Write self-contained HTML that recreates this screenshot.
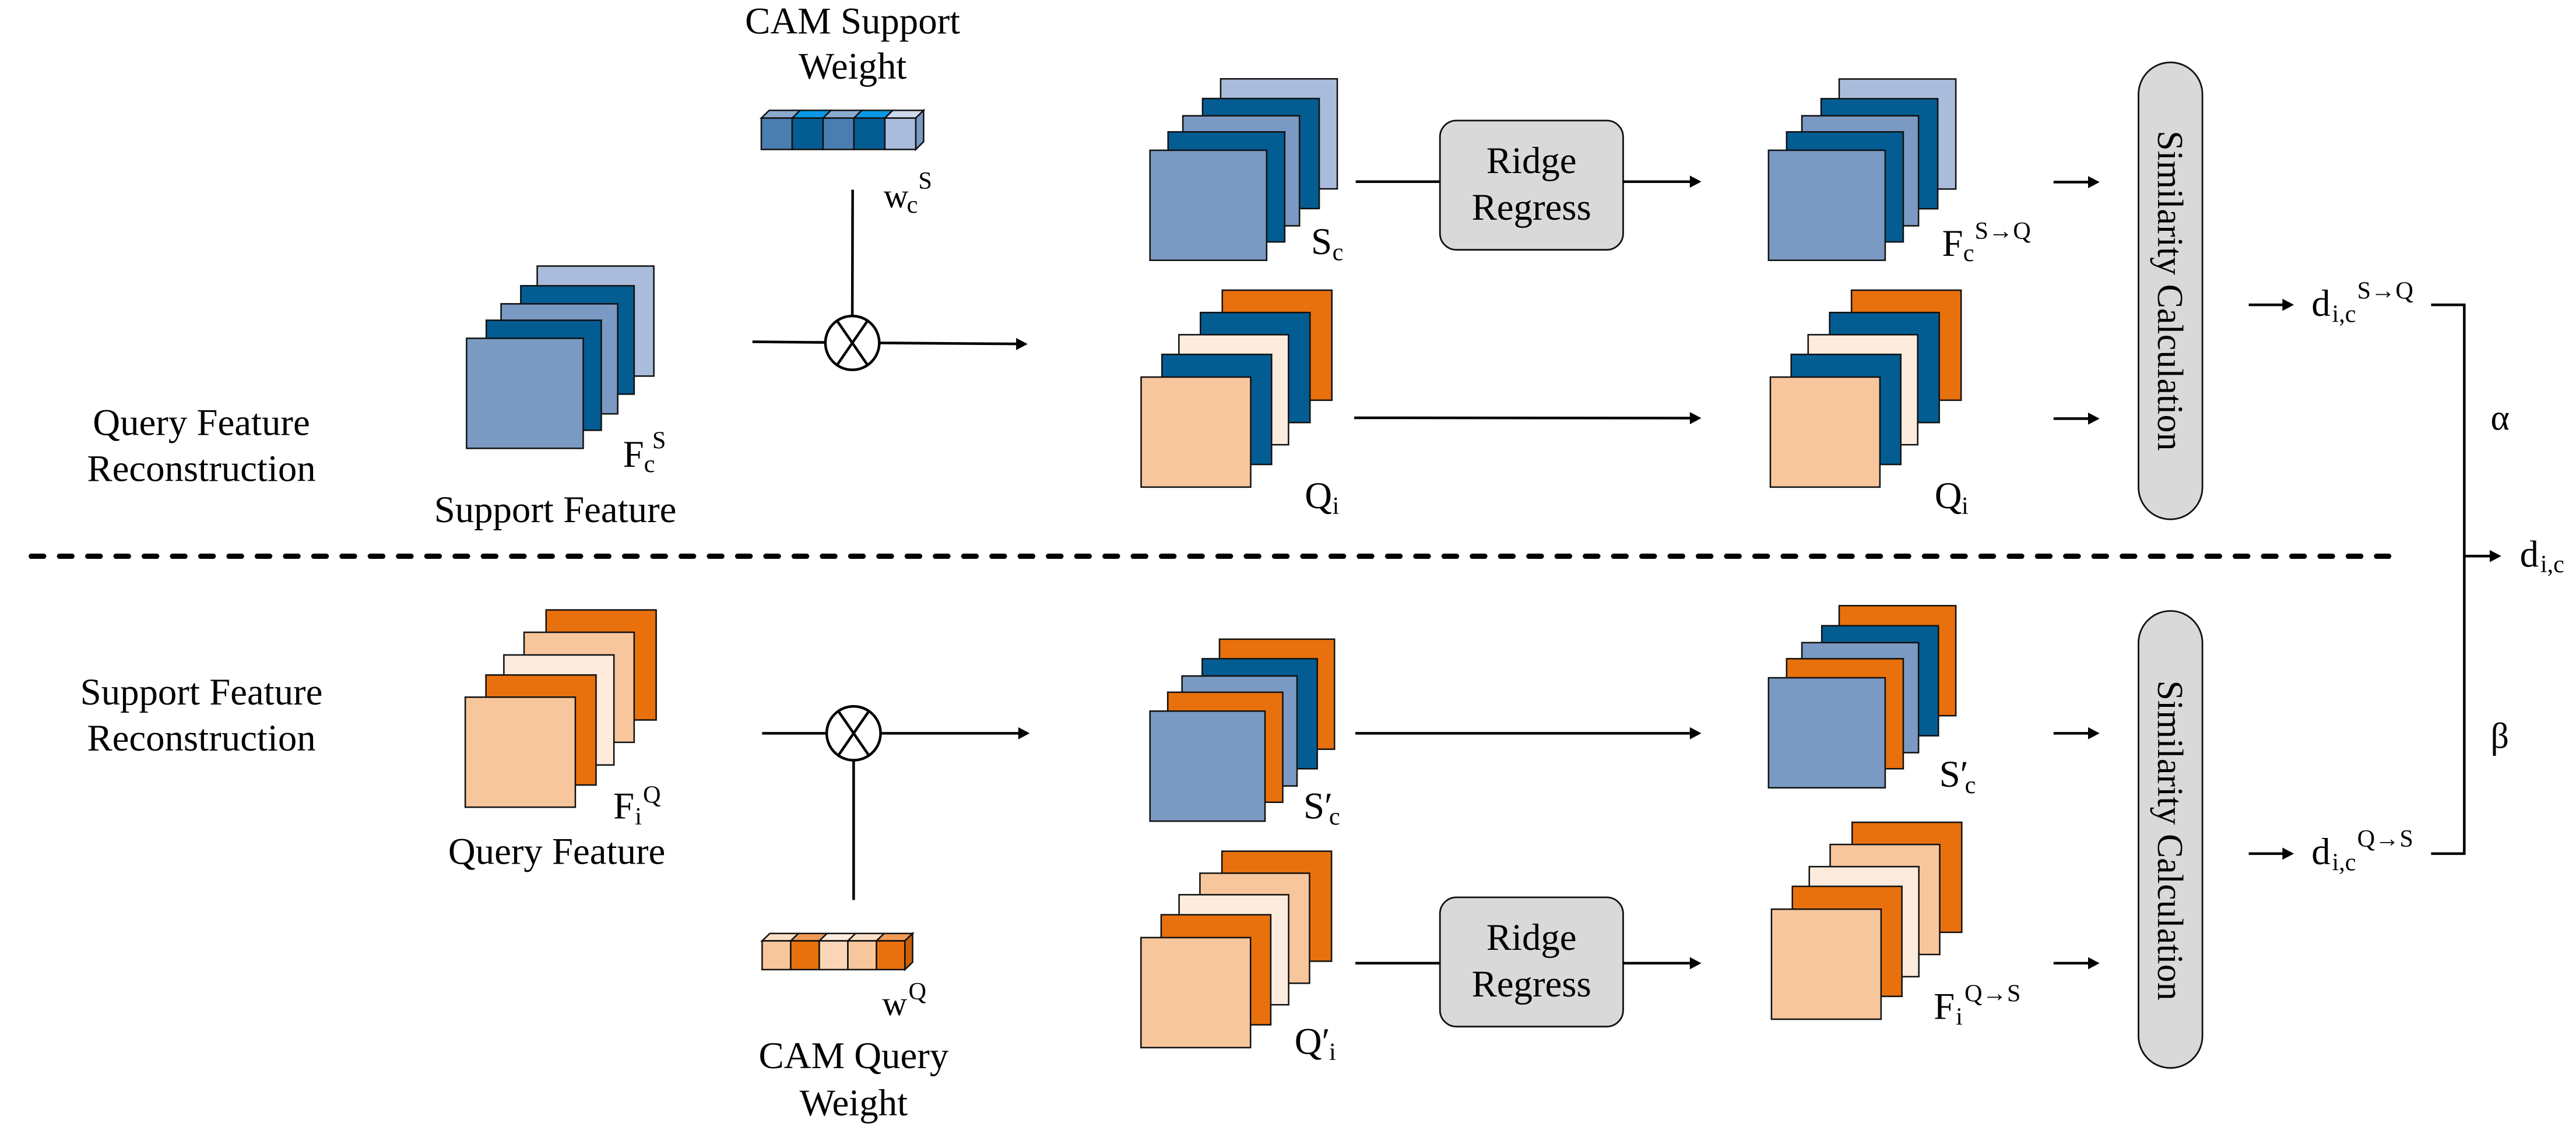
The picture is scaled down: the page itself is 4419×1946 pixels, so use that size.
<!DOCTYPE html>
<html><head><meta charset="utf-8"><style>
html,body{margin:0;padding:0;background:#fff;}
svg{display:block;font-family:"Liberation Serif","Times New Roman",serif;}
</style></head><body>
<svg width="4419" height="1946" viewBox="0 0 1568 690.5" xmlns="http://www.w3.org/2000/svg" font-family="Liberation Serif, Times New Roman, serif">
<defs>
<style>
text{font-family:"Liberation Serif","Times New Roman",serif;fill:#000;}
.r{stroke:#111;stroke-width:0.9;}
.L{fill:#AABCDC}.D{fill:#045D92}.M{fill:#7A9AC3}.O{fill:#E8710E}.P{fill:#F8C69D}.W{fill:#FDEBDD}
.ln{stroke:#000;stroke-width:1.6;fill:none;}
.t{font-size:23px;font-family:"Liberation Serif",serif;}
.s{font-size:15px;font-family:"Liberation Serif",serif;}
</style>
</defs>

<text class="t" x="122.6" y="264.8" text-anchor="middle">Query Feature</text>
<text class="t" x="122.6" y="293" text-anchor="middle">Reconstruction</text>
<text class="t" x="122.6" y="429" text-anchor="middle">Support Feature</text>
<text class="t" x="122.6" y="457" text-anchor="middle">Reconstruction</text>

<line x1="19" y1="338.7" x2="1454" y2="338.7" stroke="#000" stroke-width="3.2" stroke-linecap="round" stroke-dasharray="7.6 9.6"/>

<text class="t" x="519" y="20.4" text-anchor="middle">CAM Support</text>
<text class="t" x="519" y="47.9" text-anchor="middle">Weight</text>
<g class="r">
<polygon points="463.4,71.9 482.2,71.9 487,67.2 468.2,67.2" fill="#8AAAD0"/>
<polygon points="482.2,71.9 501,71.9 505.8,67.2 487,67.2" fill="#0A98E6"/>
<polygon points="501,71.9 519.8,71.9 524.6,67.2 505.8,67.2" fill="#8AAAD0"/>
<polygon points="519.8,71.9 538.6,71.9 543.4,67.2 524.6,67.2" fill="#0A98E6"/>
<polygon points="538.6,71.9 557.4,71.9 562.2,67.2 543.4,67.2" fill="#CCD8EA"/>
<polygon points="557.4,71.9 562.2,67.2 562.2,86.3 557.4,91" fill="#7A9AC3"/>
<rect x="463.4" y="71.9" width="18.8" height="19.1" fill="#4A7DB0"/>
<rect x="482.2" y="71.9" width="18.8" height="19.1" class="D"/>
<rect x="501" y="71.9" width="18.8" height="19.1" fill="#4A7DB0"/>
<rect x="519.8" y="71.9" width="18.8" height="19.1" class="D"/>
<rect x="538.6" y="71.9" width="18.8" height="19.1" class="L"/>
</g>
<text class="t" x="537.8" y="126.3" style="font-size:21px">w</text>
<text class="s" x="552" y="129.5">c</text>
<text class="s" x="559" y="115">S</text>

<line class="ln" x1="519" y1="115.5" x2="518.8" y2="192.5"/>
<line class="ln" x1="458" y1="208.1" x2="502.4" y2="208.5"/>
<line class="ln" x1="535.4" y1="208.8" x2="618.5" y2="209.4"/>
<polygon points="625.5,209.5 618.5,205.8 618.5,213.2"/>
<circle cx="518.8" cy="208.8" r="16.4" fill="#fff" stroke="#000" stroke-width="1.6"/>
<line class="ln" x1="509.5" y1="195.3" x2="528.1" y2="222.3"/>
<line class="ln" x1="528.1" y1="195.3" x2="509.5" y2="222.3"/>

<g class="r">
<rect x="327" y="162" width="71" height="67" class="L"/>
<rect x="317" y="174" width="69" height="66" class="D"/>
<rect x="305" y="185" width="71" height="67" class="M"/>
<rect x="296" y="195" width="70" height="67" class="D"/>
<rect x="284" y="206" width="71" height="67" class="M"/>
</g>
<text class="t" x="379.2" y="284.2">F</text>
<text class="s" x="392" y="287.5">c</text>
<text class="s" x="397" y="273">S</text>
<text class="t" x="338" y="318" text-anchor="middle">Support Feature</text>

<g class="r">
<rect x="743" y="48" width="71" height="67" class="L"/>
<rect x="732" y="60" width="71" height="67" class="D"/>
<rect x="720" y="70.5" width="71" height="67" class="M"/>
<rect x="711" y="80.3" width="71" height="67" class="D"/>
<rect x="700" y="91.5" width="71" height="67" class="M"/>
</g>
<text class="t" x="798" y="154.7">S</text>
<text class="s" x="811" y="158.4">c</text>

<g class="r">
<rect x="744" y="176.7" width="66.7" height="67" class="O"/>
<rect x="730.7" y="190.3" width="66.7" height="67" class="D"/>
<rect x="717.6" y="203.8" width="66.7" height="67" class="W"/>
<rect x="707.3" y="215.8" width="66.7" height="67" class="D"/>
<rect x="694.6" y="229.6" width="66.7" height="67" class="P"/>
</g>
<text class="t" x="794.2" y="309.5">Q</text>
<text class="s" x="811" y="313">i</text>

<line class="ln" x1="825.2" y1="110.6" x2="876.5" y2="110.6"/>
<rect x="876.5" y="73.4" width="111.5" height="78.7" rx="10" fill="#D9D9D9" stroke="#111" stroke-width="1"/>
<text class="t" x="932.2" y="105.4" text-anchor="middle">Ridge</text>
<text class="t" x="932.2" y="133.8" text-anchor="middle">Regress</text>
<line class="ln" x1="988" y1="110.6" x2="1029" y2="110.6"/>
<polygon points="1035.6,110.6 1028.6,106.9 1028.6,114.3"/>
<line class="ln" x1="824.3" y1="254.4" x2="1029" y2="254.6"/>
<polygon points="1035.6,254.6 1028.6,250.9 1028.6,258.3"/>

<g class="r">
<rect x="1119.5" y="48.1" width="71" height="67" class="L"/>
<rect x="1108.5" y="60.1" width="71" height="67" class="D"/>
<rect x="1096.8" y="70.5" width="71" height="67" class="M"/>
<rect x="1087.5" y="80.3" width="71" height="67" class="D"/>
<rect x="1076.5" y="91.5" width="71" height="67" class="M"/>
</g>
<text class="t" x="1182.1" y="155.7">F</text>
<text class="s" x="1195" y="159">c</text>
<text class="s" x="1202" y="145.5">S→Q</text>

<g class="r">
<rect x="1127" y="176.7" width="66.7" height="67" class="O"/>
<rect x="1113.7" y="190.3" width="66.7" height="67" class="D"/>
<rect x="1100.6" y="203.8" width="66.7" height="67" class="W"/>
<rect x="1090.3" y="215.8" width="66.7" height="67" class="D"/>
<rect x="1077.6" y="229.6" width="66.7" height="67" class="P"/>
</g>
<text class="t" x="1177.6" y="309.5">Q</text>
<text class="s" x="1194" y="313">i</text>

<line class="ln" x1="1250" y1="110.9" x2="1272" y2="110.9"/>
<polygon points="1278,110.9 1271,107.2 1271,114.6"/>
<line class="ln" x1="1250" y1="254.9" x2="1272" y2="254.9"/>
<polygon points="1278,254.9 1271,251.2 1271,258.6"/>

<rect x="1301.7" y="38" width="38.9" height="278.2" rx="19.45" fill="#D9D9D9" stroke="#111" stroke-width="1"/>
<text class="t" transform="translate(1313.5,177) rotate(90)" x="0" y="0" text-anchor="middle" style="font-size:22px">Similarity Calculation</text>

<line class="ln" x1="1368.8" y1="185.6" x2="1390" y2="185.6"/>
<polygon points="1396.3,185.6 1389.3,181.9 1389.3,189.3"/>
<text class="t" x="1407" y="192.3">d</text>
<text class="s" x="1419.5" y="196">i,c</text>
<text class="s" x="1434.8" y="181.8">S→Q</text>

<polyline class="ln" points="1479.8,185.6 1500,185.6 1500,519.8 1479.8,519.8"/>
<line class="ln" x1="1500" y1="338.6" x2="1516" y2="338.6"/>
<polygon points="1522.5,338.6 1515.5,334.9 1515.5,342.3"/>
<text class="t" x="1533.8" y="345">d</text>
<text class="s" x="1546.3" y="348.5">i,c</text>
<text class="t" x="1516" y="261.6" style="font-size:22px">α</text>
<text class="t" x="1516" y="455.5" style="font-size:22px">β</text>

<g class="r">
<rect x="332.4" y="371.4" width="67" height="67" class="O"/>
<rect x="319" y="385" width="67" height="67" class="P"/>
<rect x="306.7" y="398.8" width="67" height="67" class="W"/>
<rect x="295.8" y="411" width="67" height="67" class="O"/>
<rect x="283.2" y="424.5" width="67" height="67" class="P"/>
</g>
<text class="t" x="373.3" y="498.3">F</text>
<text class="s" x="386.5" y="502">i</text>
<text class="s" x="391.4" y="488.7">Q</text>
<text class="t" x="338.9" y="526" text-anchor="middle">Query Feature</text>

<line class="ln" x1="463.9" y1="446.5" x2="503" y2="446.5"/>
<line class="ln" x1="536" y1="446.5" x2="620" y2="446.5"/>
<polygon points="626.8,446.5 619.8,442.8 619.8,450.2"/>
<line class="ln" x1="519.6" y1="463" x2="519.6" y2="548"/>
<circle cx="519.6" cy="446.5" r="16.4" fill="#fff" stroke="#000" stroke-width="1.6"/>
<line class="ln" x1="510.3" y1="433" x2="528.9" y2="460"/>
<line class="ln" x1="528.9" y1="433" x2="510.3" y2="460"/>

<g class="r">
<polygon points="463.9,572.9 481.3,572.9 486,568.4 468.6,568.4" fill="#FCE0C8"/>
<polygon points="481.3,572.9 498.7,572.9 503.4,568.4 486,568.4" fill="#F09A55"/>
<polygon points="498.7,572.9 516.1,572.9 520.8,568.4 503.4,568.4" fill="#FDEBDD"/>
<polygon points="516.1,572.9 533.5,572.9 538.2,568.4 520.8,568.4" fill="#FCE0C8"/>
<polygon points="533.5,572.9 550.8,572.9 555.5,568.4 538.2,568.4" fill="#F09A55"/>
<polygon points="550.8,572.9 555.5,568.4 555.5,585.9 550.8,590.4" fill="#C8600C"/>
<rect x="463.9" y="572.9" width="17.4" height="17.5" class="P"/>
<rect x="481.3" y="572.9" width="17.4" height="17.5" class="O"/>
<rect x="498.7" y="572.9" width="17.4" height="17.5" fill="#FBD7B8"/>
<rect x="516.1" y="572.9" width="17.4" height="17.5" class="P"/>
<rect x="533.5" y="572.9" width="17.3" height="17.5" class="O"/>
</g>
<text class="t" x="537" y="618.2" style="font-size:21px">w</text>
<text class="s" x="553" y="608.5">Q</text>
<text class="t" x="519.6" y="650.4" text-anchor="middle">CAM Query</text>
<text class="t" x="519.6" y="679.2" text-anchor="middle">Weight</text>

<g class="r">
<rect x="742.3" y="389.2" width="70" height="67" class="O"/>
<rect x="731.8" y="401.1" width="70" height="67" class="D"/>
<rect x="719.5" y="411.6" width="70" height="67" class="M"/>
<rect x="710.8" y="421.5" width="70" height="67" class="O"/>
<rect x="700" y="433" width="70" height="67" class="M"/>
</g>
<text class="t" x="793.4" y="498.3">S′</text>
<text class="s" x="809" y="502">c</text>

<g class="r">
<rect x="743.8" y="518.3" width="66.7" height="67" class="O"/>
<rect x="730.4" y="531.7" width="66.7" height="67" class="P"/>
<rect x="717.7" y="544.8" width="66.7" height="67" class="W"/>
<rect x="706.8" y="557" width="66.7" height="67" class="O"/>
<rect x="694.5" y="570.9" width="66.7" height="67" class="P"/>
</g>
<text class="t" x="788" y="641.8">Q′</text>
<text class="s" x="809" y="645.5">i</text>

<line class="ln" x1="825" y1="446.5" x2="1029" y2="446.5"/>
<polygon points="1035.6,446.5 1028.6,442.8 1028.6,450.2"/>
<line class="ln" x1="825" y1="586.5" x2="876.5" y2="586.5"/>
<rect x="876.5" y="546.4" width="111.5" height="78.7" rx="10" fill="#D9D9D9" stroke="#111" stroke-width="1"/>
<text class="t" x="932.2" y="578.4" text-anchor="middle">Ridge</text>
<text class="t" x="932.2" y="606.8" text-anchor="middle">Regress</text>
<line class="ln" x1="988" y1="586.5" x2="1029" y2="586.5"/>
<polygon points="1035.6,586.5 1028.6,582.8 1028.6,590.2"/>

<g class="r">
<rect x="1119.5" y="368.8" width="71" height="67" class="O"/>
<rect x="1108.9" y="381" width="71" height="67" class="D"/>
<rect x="1096.8" y="391.3" width="71" height="67" class="M"/>
<rect x="1087.5" y="401.1" width="71" height="67" class="O"/>
<rect x="1076.5" y="412.7" width="71" height="67" class="M"/>
</g>
<text class="t" x="1180.4" y="479.1">S′</text>
<text class="s" x="1196" y="483">c</text>

<g class="r">
<rect x="1127.4" y="500.7" width="66.7" height="67" class="O"/>
<rect x="1114" y="514.2" width="66.7" height="67" class="P"/>
<rect x="1101.3" y="527.7" width="66.7" height="67" class="W"/>
<rect x="1091" y="539.7" width="66.7" height="67" class="O"/>
<rect x="1078.3" y="553.6" width="66.7" height="67" class="P"/>
</g>
<text class="t" x="1177" y="620.4">F</text>
<text class="s" x="1190.5" y="624">i</text>
<text class="s" x="1195.8" y="609.7">Q→S</text>

<line class="ln" x1="1250" y1="446.5" x2="1272" y2="446.5"/>
<polygon points="1278,446.5 1271,442.8 1271,450.2"/>
<line class="ln" x1="1250" y1="586.5" x2="1272" y2="586.5"/>
<polygon points="1278,586.5 1271,582.8 1271,590.2"/>

<rect x="1301.7" y="372" width="38.9" height="278.3" rx="19.45" fill="#D9D9D9" stroke="#111" stroke-width="1"/>
<text class="t" transform="translate(1313.5,511.7) rotate(90)" x="0" y="0" text-anchor="middle" style="font-size:22px">Similarity Calculation</text>

<line class="ln" x1="1368.8" y1="519.8" x2="1390" y2="519.8"/>
<polygon points="1396.3,519.8 1389.3,516.1 1389.3,523.5"/>
<text class="t" x="1407" y="526.2">d</text>
<text class="s" x="1419.5" y="530">i,c</text>
<text class="s" x="1434.8" y="515.5">Q→S</text>
</svg>
</body></html>
